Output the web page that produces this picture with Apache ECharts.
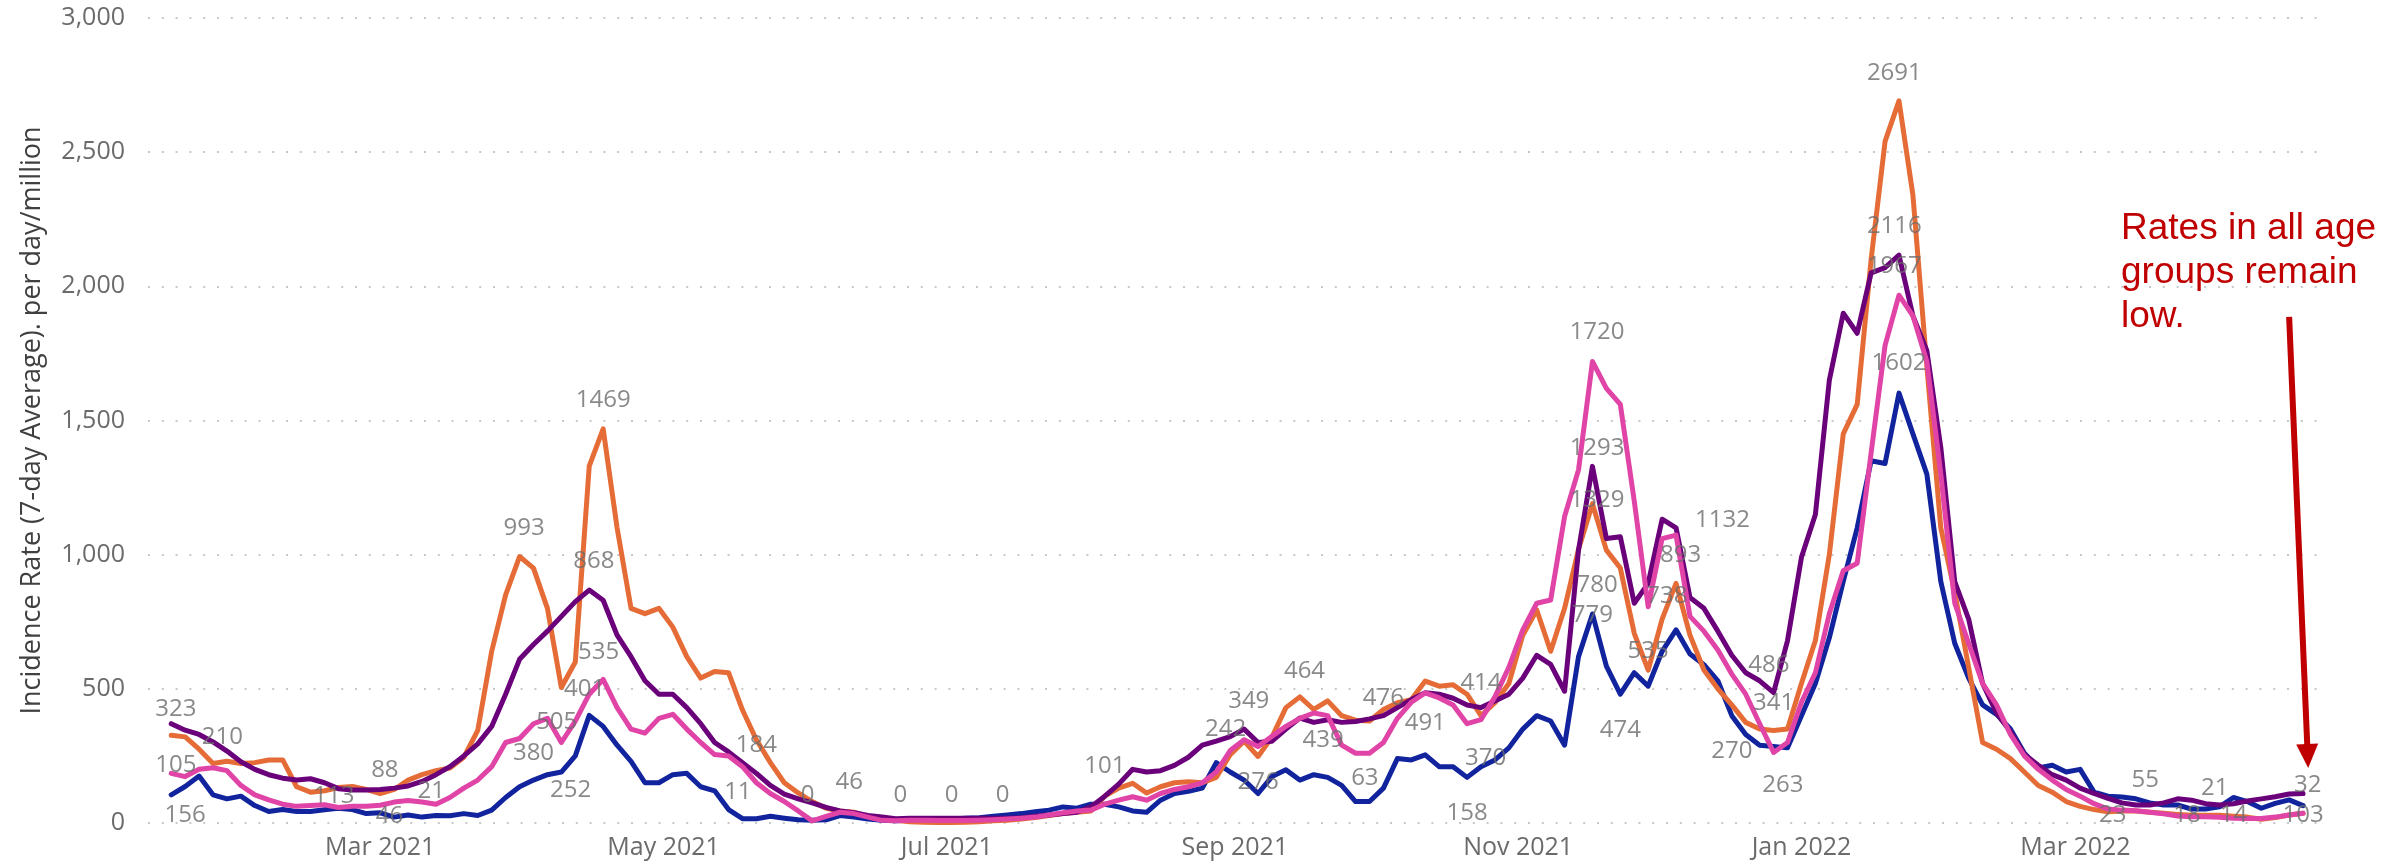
<!DOCTYPE html>
<html><head><meta charset="utf-8">
<script src="https://cdn.jsdelivr.net/npm/echarts@6/dist/echarts.min.js"></script>
<style>html,body{margin:0;padding:0;background:#fff}#c{width:2408px;height:867px}</style>
</head><body><div id="c"></div>
<script>
// ---------- DATA ----------
const sampleDates = [
'2021-01-15','2021-01-18','2021-01-21','2021-01-24','2021-01-27','2021-01-30','2021-02-02','2021-02-05','2021-02-08','2021-02-11',
'2021-02-14','2021-02-17','2021-02-20','2021-02-23','2021-02-26','2021-03-01','2021-03-04','2021-03-07','2021-03-10','2021-03-13',
'2021-03-16','2021-03-19','2021-03-22','2021-03-25','2021-03-28','2021-03-31','2021-04-03','2021-04-06','2021-04-09','2021-04-12',
'2021-04-15','2021-04-18','2021-04-21','2021-04-24','2021-04-27','2021-04-30','2021-05-03','2021-05-06','2021-05-09','2021-05-12',
'2021-05-15','2021-05-18','2021-05-21','2021-05-24','2021-05-27','2021-05-30','2021-06-02','2021-06-05','2021-06-08','2021-06-11',
'2021-06-14','2021-06-17','2021-06-20','2021-06-23','2021-06-26','2021-06-29','2021-07-02','2021-07-05','2021-07-08','2021-07-11',
'2021-07-14','2021-07-17','2021-07-20','2021-07-23','2021-07-26','2021-07-29','2021-08-01','2021-08-04','2021-08-07','2021-08-10',
'2021-08-13','2021-08-16','2021-08-19','2021-08-22','2021-08-25','2021-08-28','2021-08-31','2021-09-03','2021-09-06','2021-09-09',
'2021-09-12','2021-09-15','2021-09-18','2021-09-21','2021-09-24','2021-09-27','2021-09-30','2021-10-03','2021-10-06','2021-10-09',
'2021-10-12','2021-10-15','2021-10-18','2021-10-21','2021-10-24','2021-10-27','2021-10-30','2021-11-02','2021-11-05','2021-11-08',
'2021-11-11','2021-11-14','2021-11-17','2021-11-20','2021-11-23','2021-11-26','2021-11-29','2021-12-02','2021-12-05','2021-12-08',
'2021-12-11','2021-12-14','2021-12-17','2021-12-20','2021-12-23','2021-12-26','2021-12-29','2022-01-01','2022-01-04','2022-01-07',
'2022-01-10','2022-01-13','2022-01-16','2022-01-19','2022-01-22','2022-01-25','2022-01-28','2022-01-31','2022-02-03','2022-02-06',
'2022-02-09','2022-02-12','2022-02-15','2022-02-18','2022-02-21','2022-02-24','2022-02-27','2022-03-02','2022-03-05','2022-03-08',
'2022-03-11','2022-03-14','2022-03-17','2022-03-20','2022-03-23','2022-03-26','2022-03-29','2022-04-01','2022-04-04','2022-04-07',
'2022-04-10','2022-04-13','2022-04-16','2022-04-19'];

const seriesNames = ['Age group 1','Age group 2','Age group 3','Age group 4'];

const blueValues = [
105,136,175,105,90,100,65,43,50,43, 43,49,55,50,35,38,22,30,22,28,
27,35,28,48,95,135,160,180,190,250, 401,360,290,230,150,150,180,185,135,120,
50,16,16,25,18,12,10,12,28,22, 15,10,8,10,12,15,15,18,20,25,
30,35,42,48,60,55,70,70,60,45, 40,85,110,118,130,225,190,160,110,173,
198,160,180,170,140,80,80,130,240,235, 254,210,210,170,210,235,280,350,400,380,
290,620,779,585,480,560,510,640,720,630, 590,530,400,330,290,285,280,400,520,690,
900,1100,1350,1340,1602,1450,1300,900,670,540, 440,405,350,260,205,215,190,200,115,100,
97,90,75,67,67,52,52,60,95,80, 55,73,86,65];

const orangeValues = [
327,321,275,222,230,222,225,235,235,135, 115,120,132,136,125,110,125,160,180,195,
205,245,345,640,850,993,950,800,505,600, 1330,1469,1100,800,780,800,730,620,540,565,
560,421,310,225,150,112,80,55,45,40, 25,18,10,5,3,2,2,3,5,8,
10,15,20,28,35,40,45,100,130,148, 112,135,150,154,150,170,255,305,248,320,
430,470,423,455,400,383,380,423,448,460, 529,510,515,480,400,448,520,700,794,640,
800,1020,1190,1017,950,707,570,760,893,700, 570,500,440,375,350,345,350,520,680,1000,
1450,1560,2100,2540,2691,2340,1701,1100,860,580, 300,275,240,190,140,115,80,62,50,42,
45,45,40,36,32,29,29,29,25,22, 14,20,30,36];

const purpleValues = [
370,346,330,302,268,228,200,180,167,160, 165,150,128,123,123,125,130,138,155,180,
210,250,295,360,480,610,665,715,770,825, 868,830,700,620,530,480,480,430,370,300,
265,225,185,140,108,90,75,58,45,38, 28,22,16,18,18,18,18,18,18,18,
18,20,25,30,35,40,60,100,145,200, 190,195,215,245,290,305,322,350,300,305,
350,391,375,385,375,378,388,400,430,460, 485,480,465,440,430,455,480,540,625,591,
491,1017,1329,1060,1067,819,893,1132,1100,840, 800,715,625,560,530,486,680,990,1150,1650,
1900,1825,2050,2070,2116,1890,1760,1400,900,760, 520,410,340,255,215,180,160,130,110,92,
75,67,67,75,90,85,72,67,72,82, 90,98,108,110];

const pinkValues = [
185,173,200,206,195,140,105,86,70,62, 65,68,58,62,62,66,78,84,78,70,
95,130,160,210,300,315,370,390,300,380, 480,535,430,350,335,390,405,350,300,255,
250,210,150,110,80,45,8,25,40,35, 22,10,8,10,10,9,9,9,10,12,
15,18,22,30,38,45,48,70,85,98, 85,110,125,135,150,190,270,310,285,323,
360,390,410,400,290,260,260,300,390,450, 485,466,440,370,385,470,580,720,819,831,
1142,1316,1720,1620,1560,1200,806,1060,1073,770, 715,645,555,480,370,263,300,450,560,780,
940,968,1380,1780,1967,1890,1720,1300,820,670, 520,440,330,250,200,160,125,100,72,52,
48,46,40,34,26,23,23,21,18,17, 17,22,30,36];

const labelDates = ['2021-01-16','2021-01-26','2021-01-16','2021-01-18','2021-02-19','2021-03-02','2021-03-03','2021-03-12',
'2021-04-01','2021-04-03','2021-04-08','2021-04-11','2021-04-14','2021-04-16','2021-04-17','2021-04-18','2021-05-17','2021-05-21',
'2021-06-01','2021-06-10','2021-06-21','2021-07-02','2021-07-13','2021-08-04','2021-08-30','2021-09-04','2021-09-06','2021-09-16',
'2021-09-20','2021-09-29','2021-10-03','2021-10-12','2021-10-21','2021-10-24','2021-10-25','2021-11-17','2021-11-18','2021-11-18',
'2021-11-18','2021-11-18','2021-11-23','2021-11-29','2021-12-03','2021-12-06','2021-12-15','2021-12-17','2021-12-25','2021-12-26',
'2021-12-28','2022-01-21','2022-01-21','2022-01-21','2022-01-22','2022-03-09','2022-03-16','2022-03-25','2022-03-31','2022-04-04',
'2022-04-19','2022-04-20'];
const labelYs = [426,321,216,31,99,198,25,117,
1100,259,377,123,500,975,635,1577,116,290,
103,153,105,105,105,210,348,454,154,566,
310,166,466,373,35,523,241,775,1831,1396,
1204,887,347,639,844,999,1129,266,589,446,
142,2794,2223,2074,1713,30,160,30,129,30,
30,141];
const labelTexts = ['323','210','105','156','113','88','46','21',
'993','380','505','252','401','868','535','1469','11','184',
'0','46','0','0','0','101','242','349','276','464',
'439','63','476','491','158','414','370','779','1720','1293',
'1329','780','474','535','738','893','1132','270','486','341',
'263','2691','2116','1967','1602','23','55','18','21','14',
'103','32'];

const tickDates = ['2021-03-01','2021-05-01','2021-07-01','2021-09-01','2021-11-01','2022-01-01','2022-03-01'];
const tickLabels = ['Mar 2021','May 2021','Jul 2021','Sep 2021','Nov 2021','Jan 2022','Mar 2022'];
const axisStart = '2021-01-10';
const axisEnd = '2022-04-22';

const arrowFrom = ['2022-04-16', 1886];
const arrowTo = ['2022-04-20', 250];
const noteText = 'Rates in all age\ngroups remain\nlow.';

// ---------- BUILD ----------
function dayList(a, b) {
  const p = s => Date.UTC(+s.slice(0,4), +s.slice(5,7)-1, +s.slice(8,10));
  const out = []; let t = p(a); const e = p(b);
  while (t <= e) { out.push(new Date(t).toISOString().slice(0,10)); t += 86400000; }
  return out;
}
const categories = dayList(axisStart, axisEnd);
const FONT = '"Open Sans", "Noto Sans", sans-serif';
const colors = ['#12239E','#E66C37','#6B007B','#E044A7'];
const allValues = [blueValues, orangeValues, purpleValues, pinkValues];

const lineSeries = allValues.map((vals, k) => ({
  name: seriesNames[k], type: 'line', showSymbol: false, symbol: 'none',
  data: sampleDates.map((d, i) => [d, vals[i]]),
  lineStyle: { color: colors[k], width: 5, join: 'round', cap: 'round' },
  itemStyle: { color: colors[k] }, z: 2 + k
}));
lineSeries[0].markLine = {
  silent: true, symbol: ['none', 'triangle'], symbolSize: [22, 24],
  lineStyle: { color: '#C00000', width: 6, type: 'solid' }, label: { show: false },
  data: [[{ coord: arrowFrom }, { coord: arrowTo }]]
};

const labelSeries = {
  type: 'scatter', symbolSize: 0, silent: true, clip: false, z: 10,
  data: labelDates.map((d, i) => ({ value: [d, labelYs[i]], label: { formatter: labelTexts[i] } })),
  label: { show: true, position: 'inside', color: '#6b6b6b', fontSize: 24, fontFamily: FONT }
};

const chart = echarts.init(document.getElementById('c'), null, { renderer: 'canvas' });
chart.setOption({
  animation: false,
  backgroundColor: '#ffffff',
  grid: { left: 148, right: 91, top: 18, bottom: 44, containLabel: false },
  xAxis: {
    type: 'category', data: categories, boundaryGap: false,
    axisLine: { show: false }, axisTick: { show: false }, splitLine: { show: false },
    axisLabel: {
      interval: (idx, val) => tickDates.indexOf(val) >= 0,
      formatter: val => { const j = tickDates.indexOf(val); return j >= 0 ? tickLabels[j] : ''; },
      color: '#6b6b6b', fontSize: 25, fontFamily: FONT, margin: 12
    }
  },
  yAxis: {
    type: 'value', min: 0, max: 3000, interval: 500,
    name: 'Incidence Rate (7-day Average). per day/million',
    nameLocation: 'middle', nameGap: 102,
    nameTextStyle: { color: '#404040', fontSize: 27, fontFamily: FONT },
    axisLine: { show: false }, axisTick: { show: false },
    axisLabel: { formatter: v => v.toLocaleString('en-US'), color: '#6b6b6b', fontSize: 25, fontFamily: FONT, margin: 23 },
    splitLine: { show: true, lineStyle: { color: '#c8c8c8', width: 2, type: [2, 11.8] } }
  },
  series: lineSeries.concat([labelSeries]),
  graphic: [{
    type: 'text', left: 2121, top: 207, z: 20,
    style: { text: noteText, fill: '#C00000', font: '37px "Liberation Sans", Arial, sans-serif', lineHeight: 44 }
  }]
});
</script>
</body></html>
